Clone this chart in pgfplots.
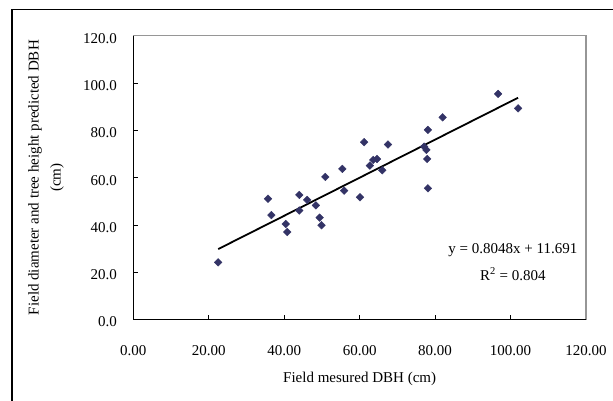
\documentclass[border=0pt]{standalone}
\usepackage{pgfplots}
\pgfplotsset{compat=1.18}
\usepackage{fontspec}
\setmainfont{Liberation Serif}
\definecolor{markc}{RGB}{51,51,102}
\definecolor{frameg}{RGB}{150,150,150}
\begin{document}
\begin{tikzpicture}[font=\fontsize{15}{18}\selectfont]
\path[use as bounding box] (0pt,0pt) rectangle (613pt,401pt);
\draw[line width=1.1pt,black] (12pt,-2pt) -- (12pt,391.5pt) -- (615pt,391.5pt);
\begin{axis}[
  at={(133.3pt,81.4pt)}, anchor=south west,
  scale only axis, width=452.7pt, height=283.9pt,
  xmin=0, xmax=120, ymin=0, ymax=120,
  xtick={0,20,...,120}, ytick={0,20,...,120},
  tick pos=left, tick align=inside, major tick length=5pt,
  tick style={black, line width=0.9pt},
  axis line style={frameg, line width=1.1pt},
  clip=false,
  /pgf/number format/assume math mode=true,
  xticklabel style={/pgf/number format/.cd, fixed, fixed zerofill, precision=2, /tikz/.cd, yshift=-22pt, font=\fontsize{15}{18}\selectfont},
  yticklabel style={/pgf/number format/.cd, fixed, fixed zerofill, precision=1, /tikz/.cd, xshift=-13pt, yshift=-2.5pt, font=\fontsize{15}{18}\selectfont},
  xlabel={Field mesured DBH (cm)},
  xlabel style={at={(axis description cs:0.5,0)}, anchor=base, yshift=-63pt, font=\fontsize{15}{18}\selectfont},
  ylabel={Field diameter and tree height predicted DBH\\(cm)},
  ylabel style={at={(axis description cs:-0.193,0.5)}, anchor=center, align=center, font=\fontsize{15}{22}\selectfont},
]
\addplot[only marks, mark=square*, mark size=2.7pt, mark options={rotate=45, fill=markc, draw=markc}] coordinates {
(22.5,24.2) (35.7,51.1) (36.6,44.2) (40.4,40.4) (40.8,37.0) (44.0,52.7) (44.0,46.1)
(46.1,50.6) (48.4,48.3) (49.4,43.1) (49.9,39.9) (50.9,60.3) (55.4,63.7) (55.9,54.5)
(60.1,51.7) (61.2,75.0) (62.7,65.1) (63.6,67.5) (64.6,67.9) (66.0,63.1) (67.5,74.0)
(77.1,73.1) (77.7,71.7) (78.1,80.2) (77.9,67.9) (78.1,55.5) (82.0,85.5) (96.7,95.4)
(102.0,89.3)
};
\addplot[black, line width=1.8pt, mark=none] coordinates {(22.5,29.80) (102,93.78)};
\draw[black, line width=1.1pt] (rel axis cs:0,1) -- (rel axis cs:0,0) -- (rel axis cs:1,0);
\node[anchor=base] at (axis cs:100.6,28.0) {y = 0.8048x + 11.691};
\node[anchor=base] at (axis cs:100.6,16.7) {R\textsuperscript{2} = 0.804};
\end{axis}
\end{tikzpicture}
\end{document}
